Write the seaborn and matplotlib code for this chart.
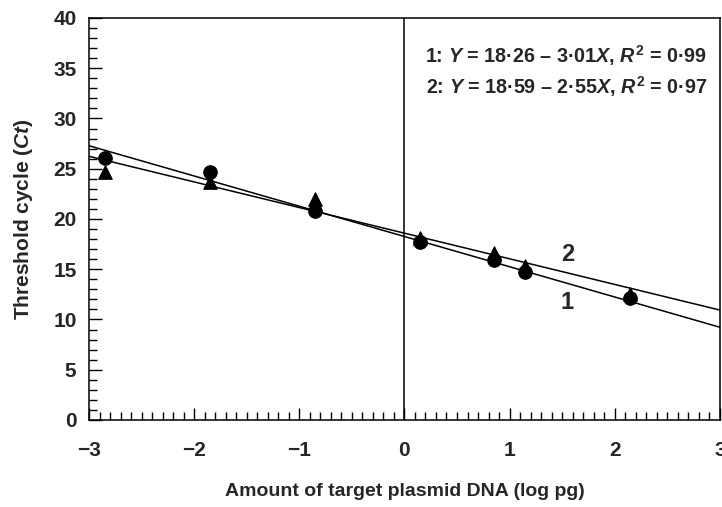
import matplotlib

matplotlib.use("Agg")

import matplotlib.pyplot as plt
import numpy as np
import pandas as pd
import seaborn as sns
from matplotlib.ticker import MultipleLocator

# measured points (log pg vs Ct)
dna_log = [-2.85, -1.85, -0.85, 0.15, 0.85, 1.15, 2.15]
ct_circle = [26.1, 24.7, 20.8, 17.7, 15.9, 14.7, 12.1]
ct_triangle = [24.7, 23.7, 22.0, 18.1, 16.6, 15.3, 12.5]

# fitted regressions as printed on the chart
fit_names = ["1", "2"]
fit_intercepts = [18.26, 18.59]
fit_slopes = [-3.01, -2.55]
fit_r2 = ["0·99", "0·97"]
x_range = [-3, 3]

sns.set_style("ticks")
plt.rcParams["font.family"] = ["Liberation Sans", "DejaVu Sans"]
plt.rcParams["mathtext.fontset"] = "custom"
plt.rcParams["mathtext.rm"] = "Liberation Sans:bold"
plt.rcParams["mathtext.it"] = "Liberation Sans:italic:bold"

fig = plt.figure(figsize=(7.22, 5.07), dpi=100)
ax = fig.add_axes([0.1233, 0.1716, 0.8737, 0.7929])

pts = pd.DataFrame({"x": dna_log, "circle": ct_circle, "triangle": ct_triangle})
sns.scatterplot(data=pts, x="x", y="circle", marker="o", s=95, color="black",
                edgecolor="black", ax=ax, zorder=3)
sns.scatterplot(data=pts, x="x", y="triangle", marker="^", s=95, color="black",
                edgecolor="black", ax=ax, zorder=3)

for name, b0, b1 in zip(fit_names, fit_intercepts, fit_slopes):
    xs = np.array(x_range, dtype=float)
    line = pd.DataFrame({"x": xs, "y": b0 + b1 * xs})
    sns.lineplot(data=line, x="x", y="y", color="black", linewidth=1.1, ax=ax)

ax.axvline(0, color="black", linewidth=1.1)

ax.text(1.55, 16.5, "2", fontsize=17, fontweight="bold", ha="center", va="center")
ax.text(1.55, 11.7, "1", fontsize=17, fontweight="bold", ha="center", va="center")

eq_y = [36.3, 33.2]
for name, b0, b1, r2, yy in zip(fit_names, fit_intercepts, fit_slopes, fit_r2, eq_y):
    b0s = f"{b0:.2f}".replace(".", "·")
    b1s = f"{abs(b1):.2f}".replace(".", "·")
    s = f"{name}: $Y$ = {b0s} – {b1s}$X$, $R^2$ = {r2}"
    ax.text(2.88, yy, s, fontsize=14.2, fontweight="bold", ha="right", va="center")

ax.set_xlim(-3, 3)
ax.set_ylim(0, 40)
ax.xaxis.set_major_locator(MultipleLocator(1))
ax.xaxis.set_minor_locator(MultipleLocator(0.1))
ax.yaxis.set_major_locator(MultipleLocator(5))
ax.yaxis.set_minor_locator(MultipleLocator(1))
ax.tick_params(axis="both", which="both", direction="in", top=False, right=False,
               width=1.0, color="black")
ax.tick_params(axis="both", which="major", length=9)
ax.tick_params(axis="both", which="minor", length=6)
ax.tick_params(axis="x", which="major", pad=15, labelsize=15)
ax.tick_params(axis="y", which="major", pad=9, labelsize=15)
for lbl in ax.get_xticklabels() + ax.get_yticklabels():
    lbl.set_fontweight("bold")

for sp in ax.spines.values():
    sp.set_visible(True)
    sp.set_color("black")
    sp.set_linewidth(1.1)

ax.set_xlabel("Amount of target plasmid DNA (log pg)", fontsize=14,
              fontweight="bold", labelpad=17)
ax.set_ylabel("Threshold cycle ($Ct$)", fontsize=15, fontweight="bold",
              labelpad=13)

fig.savefig("out.png", dpi=100)
plt.close(fig)
